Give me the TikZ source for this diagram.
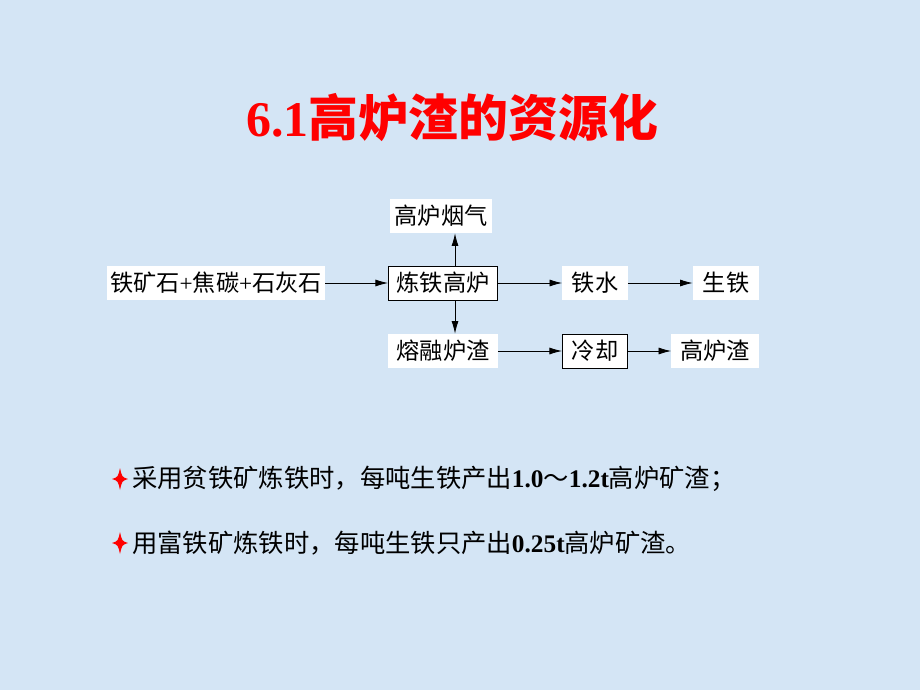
\documentclass[tikz,border=0pt]{standalone}
\usepackage{fontspec}
\setmainfont{Liberation Serif}
\newfontfamily\cjk{Noto Sans CJK SC}
\usetikzlibrary{positioning,arrows.meta}
\definecolor{bgblue}{RGB}{212,229,245}
\definecolor{titlered}{RGB}{255,0,0}
\tikzset{
  lbl/.style={fill=white,inner sep=0pt,minimum height=0.85cm,font=\fontsize{16.5}{20}\selectfont\cjk},
  unit/.style={lbl,draw=black,line width=0.6pt},
  flow/.style={-{Latex[length=9pt,width=5pt]},line width=0.6pt},
  spark/.pic={\fill[titlered] (0,-11) .. controls (2,-2) .. (8,0) .. controls (2,2) .. (0,11)
     .. controls (-2,2) .. (-8,0) .. controls (-2,-2) .. cycle;}
}
\begin{document}
\begin{tikzpicture}[x=0.025cm,y=-0.025cm]
  \fill[bgblue] (0,0) rectangle (920,690);
  \useasboundingbox (0,0) rectangle (920,690);
  % title
  \node (title) at (452,118) {\color{titlered}\fontsize{35.5}{40}\selectfont\textbf{6.1}{\cjk\bfseries 高炉渣的资源化}};
  % flow chart
  \node[lbl,minimum width=5.45cm] (ore) at (216,283) {铁矿石{\rmfamily+}焦碳{\rmfamily+}石灰石};
  \node[unit,minimum width=2.725cm] (furnace) at (443,283) {炼铁高炉};
  \node[lbl,minimum width=2.55cm] (gas) at (441,216) {高炉烟气};
  \node[lbl,minimum width=2.725cm] (melt) at (443,351) {熔融炉渣};
  \node[lbl,minimum width=1.625cm] (hot) at (595,283) {铁水};
  \node[lbl,minimum width=1.65cm] (pig) at (726,283) {生铁};
  \node[unit,minimum width=1.625cm] (cool) at (595,351) {冷却};
  \node[lbl,minimum width=2.175cm] (slag) at (715,351) {高炉渣};
  \coordinate (fx) at ([xshift=0.3cm]furnace.center);
  \draw[flow] (ore) -- (furnace);
  \draw[flow] (fx |- furnace.north) -- (fx |- gas.south);
  \draw[flow] (fx |- furnace.south) -- (fx |- melt.north);
  \draw[flow] (furnace) -- (hot);
  \draw[flow] (hot) -- (pig);
  \draw[flow] (melt) -- (cool);
  \draw[flow] (cool) -- (slag);
  % notes
  \pic at (120,479) {spark};
  \node[anchor=west,inner sep=0pt] (noteA) at (132,479) {\fontsize{18}{22}\selectfont{\cjk 采用贫铁矿炼铁时，每吨生铁产出}\textbf{1.0}{\cjk ～}\textbf{1.2t}{\cjk 高炉矿渣；}};
  \pic at (120,543) {spark};
  \node[anchor=west,inner sep=0pt] (noteB) at (132,543) {\fontsize{18}{22}\selectfont{\cjk 用富铁矿炼铁时，每吨生铁只产出}\textbf{0.25t}{\cjk 高炉矿渣。}};
\end{tikzpicture}
\end{document}
